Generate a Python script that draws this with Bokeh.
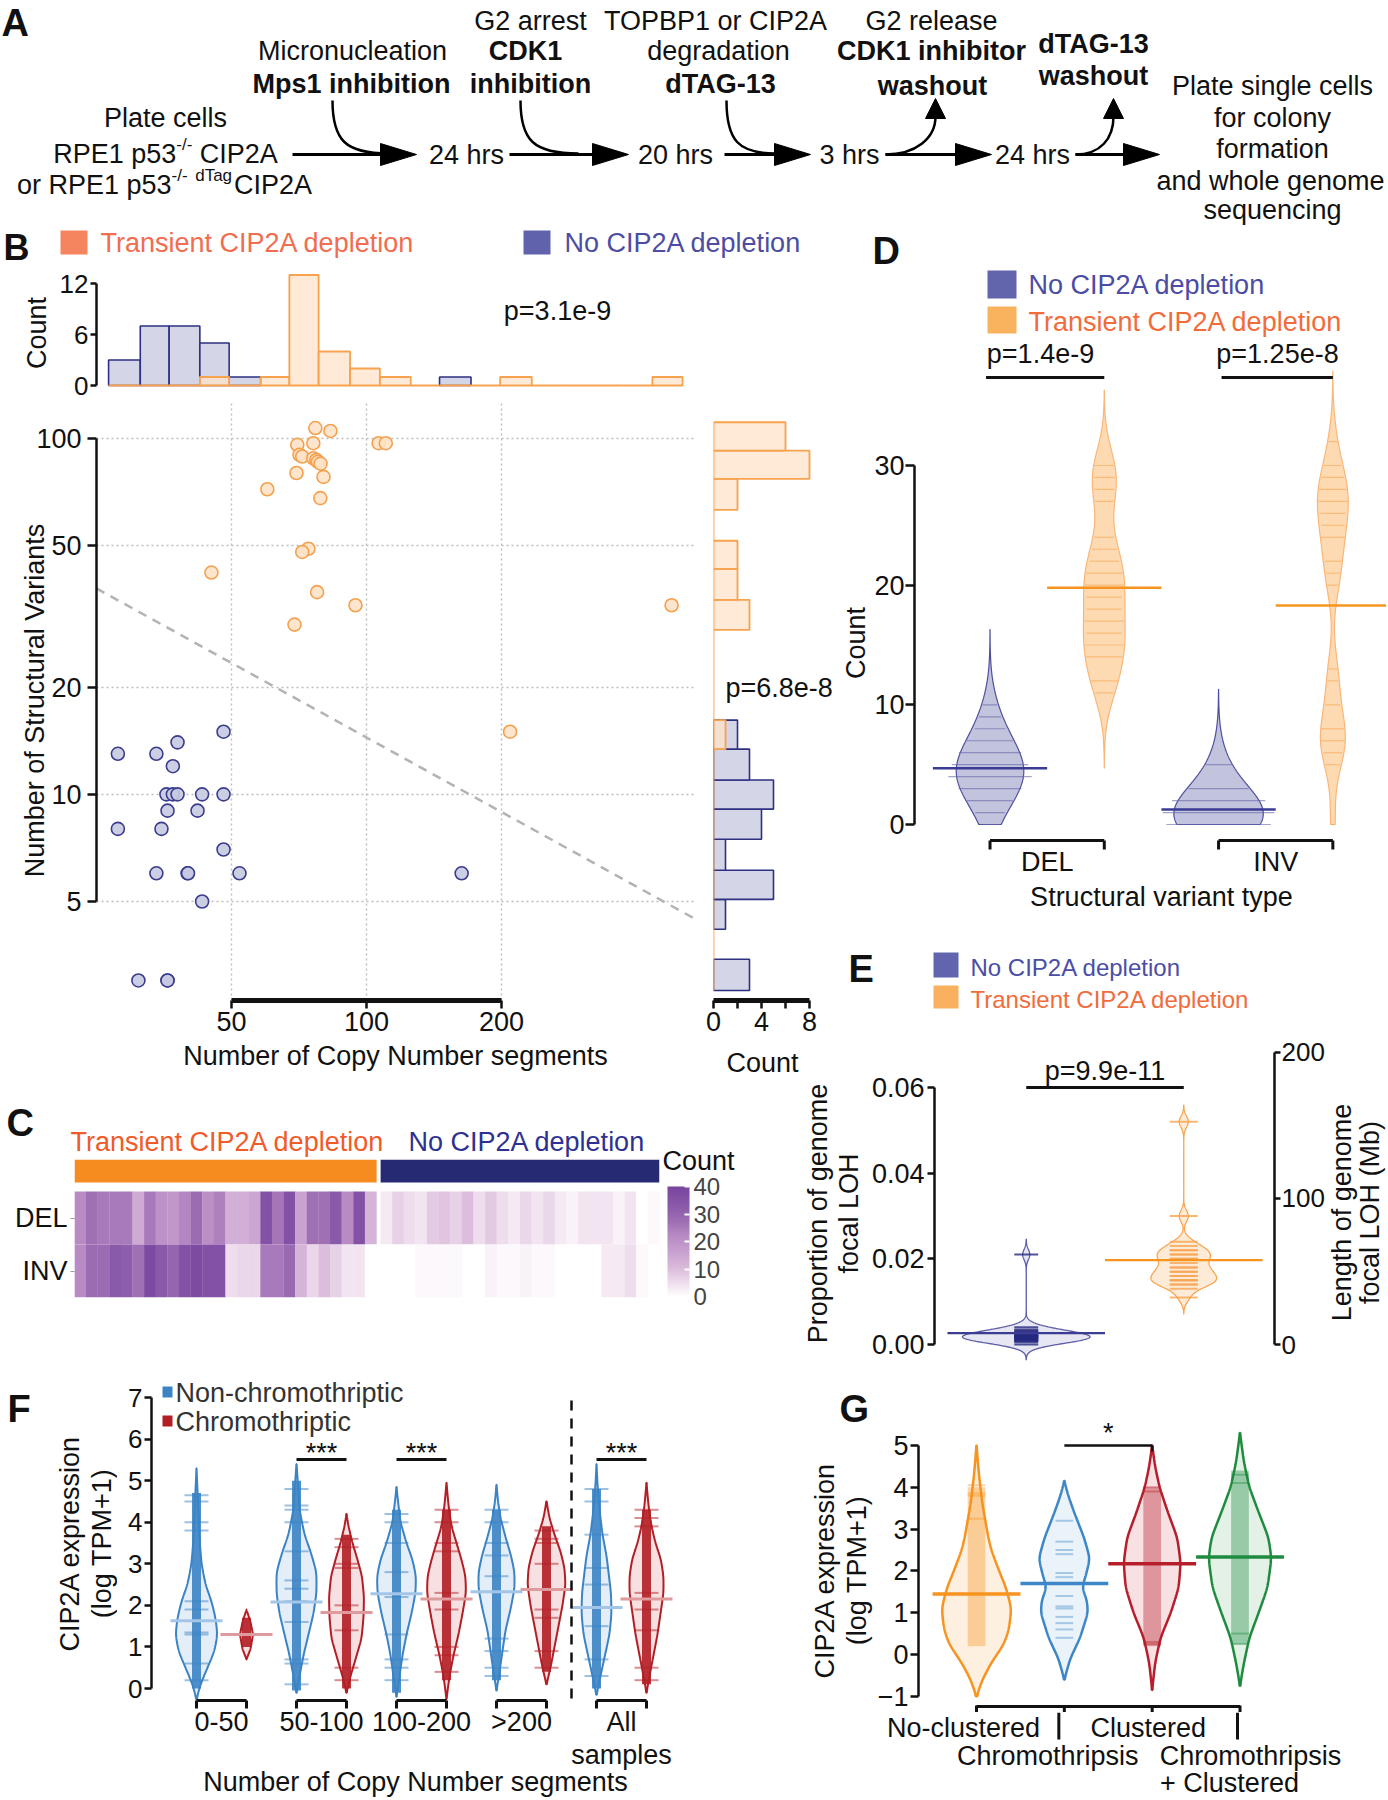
import numpy as np
from bokeh.plotting import figure
from bokeh.models import (Range1d, LinearAxis, FixedTicker, GridBox, ColorBar, Column,
                          LinearColorMapper, PrintfTickFormatter, ColumnDataSource)
from bokeh.transform import linear_cmap
from bokeh.core.properties import value
from bokeh.embed import file_html
from bokeh.resources import INLINE

FONT = "Liberation Sans"

# ======================= DATA =======================
# --- Panel B: one point per clone (copy-number segments, structural variants)
B_NO_CN = [27.9, 34.0, 37.9, 48.0, 37.0, 35.8, 37.0, 37.9, 43.0, 48.0, 36.0, 42.0,
           27.9, 34.9, 48.0, 34.0, 39.9, 40.0, 52.1, 163.0, 43.0, 31.0, 36.0, 36.0]
B_NO_SV = [13, 13, 14, 15, 12, 10, 10, 10, 10, 10, 9, 9, 8, 8, 7, 6, 6, 6, 6, 6, 5, 3, 3, 3]
B_TR_CN = [76.9, 83.1, 70.1, 76.1, 106.4, 110.4, 70.9, 71.9, 76.1, 77.3, 77.9, 79.0,
           69.8, 80.2, 60.1, 78.9, 74.2, 71.9, 45.1, 77.6, 94.5, 69.1, 479.0, 209.0]
B_TR_SV = [107, 105, 96, 97, 97, 97, 90, 89, 88, 87, 86, 85, 80, 78, 72, 68, 49, 48, 42, 37, 34, 30, 34, 15]
B_TOP_EDGES = [26.6, 31.3, 36.3, 42.5, 49.4, 58.1, 67.3, 78.2, 91.9, 107.1, 125.5, 145.5,
               171.0, 198.6, 233.6, 272.7, 318.4, 371.7, 434.0, 506.7]
B_TOP_NO = [3, 7, 7, 5, 1, 0, 0, 0, 0, 0, 0, 1, 0, 0, 0, 0, 0, 0, 0]
B_TOP_TR = [0, 0, 0, 1, 0, 1, 13, 4, 2, 1, 0, 0, 0, 1, 0, 0, 0, 0, 1]
B_RIGHT_EDGES = [2.81, 3.44, 4.18, 5.07, 6.12, 7.48, 9.09, 10.97, 13.40, 16.17, 19.6, 23.9,
                 29.0, 35.2, 43.0, 51.6, 63.0, 77.0, 92.5, 111.1]
B_RIGHT_NO = [3, 0, 1, 5, 1, 4, 5, 3, 2, 0, 0, 0, 0, 0, 0, 0, 0, 0, 0]
B_RIGHT_TR = [0, 0, 0, 0, 0, 0, 0, 0, 1, 0, 0, 0, 3, 2, 2, 0, 2, 8, 6]
B_BOUNDARY_CN = [25.0, 540.0]
B_BOUNDARY_SV = [37.9, 4.47]
B_P_TOP = "p=3.1e-9"
B_P_RIGHT = "p=6.8e-8"

# --- Panel C: SV counts per clone (columns), DEL and INV rows
C_DEL_TR = [22, 27, 25, 25, 25, 14, 25, 20, 19, 23, 28, 21, 24, 13, 13, 15, 36, 26, 36, 16, 27, 27, 33, 22, 36, 12]
C_INV_TR = [22, 28, 28, 33, 32, 27, 38, 33, 30, 36, 38, 36, 36, 5, 6, 6, 25, 25, 29, 12, 6, 10, 7, 4, 4, 0]
C_DEL_NO = [3, 7, 5, 4, 8, 9, 7, 10, 5, 8, 5, 3, 6, 4, 6, 3, 2, 4, 4, 4, 2, 4, 0, 1]
C_INV_NO = [0, 0, 0, 1, 1, 1, 1, 0, 0, 2, 1, 1, 2, 1, 1, 0, 0, 0, 0, 3, 3, 5, 1, 0]
C_STOP_VALUES = [0, 4, 10, 16, 22, 27, 33, 40]
C_STOP_COLORS = ["#FFFFFF", "#F2E3F0", "#DCBDDD", "#C9A2D0", "#B88BC4", "#A070B5", "#8A5AAA", "#7A459F"]
C_TICKS = [0, 10, 20, 30, 40]

# --- Panel D: SV counts per clone
D_DEL_NO = [0, 1, 2, 2, 3, 3, 3, 4, 4, 4, 4, 4, 5, 5, 5, 5, 6, 6, 6, 7, 7, 8, 9, 10]
D_DEL_TR = [11, 12, 12, 14, 14, 15, 15, 16, 17, 17, 18, 19, 20, 20, 21, 21, 22, 23, 24, 27, 28, 29, 30, 30]
D_INV_NO = [0, 0, 0, 0, 0, 0, 0, 0, 0, 0, 1, 1, 1, 1, 1, 1, 2, 2, 2, 2, 3, 3, 5, 5]
D_INV_TR = [0, 5, 6, 7, 7, 8, 8, 10, 12, 13, 20, 21, 22, 24, 24, 25, 26, 27, 27, 28, 28, 29, 30, 32]
D_P = ["p=1.4e-9", "p=1.25e-8"]

# --- Panel E: proportion of genome with focal LOH per clone
E_NO = [0.0, 0.0005, 0.0008, 0.001, 0.001, 0.0012, 0.0012, 0.0015, 0.0015, 0.0015, 0.0018, 0.0018,
        0.002, 0.002, 0.002, 0.0022, 0.0022, 0.0025, 0.0028, 0.003, 0.0032, 0.0035, 0.004, 0.021]
E_TR = [0.011, 0.013, 0.014, 0.014, 0.015, 0.015, 0.015, 0.016, 0.016, 0.017, 0.017, 0.018,
        0.018, 0.019, 0.020, 0.021, 0.022, 0.022, 0.023, 0.024, 0.021, 0.020, 0.030, 0.052]
E_P = "p=9.9e-11"
E_GENOME_MB = 2933.0

# --- Panel F: CIP2A expression violins (density outline)
F_CATS = ["0-50", "50-100", "100-200", ">200", "All"]
F_VALS = [
    [-0.25, 0.1, 0.5, 0.9, 1.3, 1.7, 2.1, 2.5, 3.0, 3.6, 4.5, 5.3],
    [0.7, 0.95, 1.3, 1.6, 1.9],
    [-0.1, 0.3, 0.8, 1.3, 1.8, 2.3, 2.8, 3.3, 3.7, 4.3, 4.9, 5.4],
    [-0.1, 0.3, 0.7, 1.2, 1.7, 2.2, 2.7, 3.1, 3.5, 3.9, 4.2],
    [-0.2, 0.3, 0.8, 1.3, 1.8, 2.3, 2.7, 3.1, 3.5, 4.0, 4.5, 4.85],
    [-0.25, 0.3, 0.8, 1.3, 1.8, 2.3, 2.7, 3.1, 3.5, 3.9, 4.4, 4.95],
    [-0.05, 0.4, 0.9, 1.4, 1.9, 2.4, 2.8, 3.2, 3.6, 4.1, 4.5, 4.9],
    [0.1, 0.5, 1.0, 1.5, 2.0, 2.5, 2.9, 3.3, 3.7, 4.1, 4.5],
    [-0.15, 0.3, 0.8, 1.3, 1.8, 2.3, 2.8, 3.2, 3.7, 4.3, 4.9, 5.4],
    [-0.1, 0.3, 0.8, 1.3, 1.8, 2.3, 2.7, 3.1, 3.5, 3.9, 4.4, 4.95],
]
F_DENS = [
    [0, 4, 11, 18, 21, 19, 15, 9, 5, 3, 1.5, 0],
    [0, 4, 6.5, 4, 0],
    [0, 3, 7, 12, 17, 20, 20, 14, 8, 3, 1.5, 0],
    [0, 4, 9, 15, 17, 17.5, 15.5, 11, 6, 2, 0],
    [0, 3, 6, 10, 15, 19, 19.5, 16, 10, 4, 1.5, 0],
    [0, 3, 7, 12, 16, 19.5, 19, 15, 10, 5, 2, 0],
    [0, 3, 6, 9, 14, 18, 18, 14.5, 9.5, 4, 1.5, 0],
    [0, 4, 8, 12, 16, 19, 18, 14, 8, 3, 0],
    [0, 4, 8.5, 13, 15, 14.5, 12, 10, 6, 3, 1, 0],
    [0, 3, 7, 11, 14, 17, 17, 14.5, 9, 5, 2, 0],
]
F_MEANS = [1.63, 1.30, 2.08, 1.83, 2.28, 2.15, 2.33, 2.38, 1.95, 2.15]
F_DENSE_LO = [0.0, 1.0, -0.05, 0.0, -0.1, 0.2, 0.2, 0.4, 0.0, 0.1]
F_DENSE_HI = [4.7, 1.7, 5.0, 3.7, 4.3, 4.3, 4.3, 3.9, 4.8, 4.3]
F_LINES = [
    [4.65, 4.5, 4.0, 3.8, 2.1, 1.9, 1.35, 1.3, 0.6, 0.2],
    [1.3],
    [4.8, 4.4, 4.3, 4.0, 3.3, 2.6, 2.4, 2.1, 1.6, 0.7, 0.6, 0.1],
    [3.6, 3.4, 3.0, 2.9, 2.0, 1.4, 0.5, 0.2],
    [4.2, 4.0, 3.5, 2.8, 2.2, 1.3, 0.7, 0.5, 0.2],
    [4.3, 4.0, 3.5, 3.3, 2.3, 1.9, 1.0, 0.8, 0.4],
    [4.3, 4.0, 3.5, 3.2, 2.7, 1.2, 0.9, 0.5, 0.3],
    [3.8, 3.6, 3.5, 3.0, 1.9, 1.7, 0.9, 0.5],
    [4.8, 4.5, 3.7, 2.9, 2.5, 1.5, 0.7, 0.3],
    [4.3, 4.1, 3.9, 2.3, 1.9, 1.4, 0.5, 0.2],
]
F_SIG_PAIRS = [1, 2, 4]   # groups with *** between the two violins

# --- Panel G
G_CATS = ["No-clustered", "Chromothripsis", "Clustered", "Chromothripsis", "+ Clustered"]
G_VALS = [
    [-1.0, -0.6, -0.2, 0.25, 0.6, 1.1, 1.6, 2.0, 2.5, 2.8, 3.6, 4.3, 5.0],
    [-0.6, -0.1, 0.4, 1.0, 1.3, 1.6, 1.9, 2.3, 2.8, 3.4, 3.8, 4.15],
    [-0.85, -0.2, 0.4, 1.0, 1.6, 2.2, 2.8, 3.4, 4.0, 4.5, 5.0],
    [-0.75, -0.2, 0.4, 1.0, 1.6, 2.3, 2.8, 3.4, 4.0, 4.6, 5.3],
]
G_DENS = [
    [0, 6, 15, 28, 33, 35.5, 30, 23, 15, 12, 6, 2.5, 0],
    [0, 6, 16, 24, 23, 18, 22, 26, 20, 10, 4, 0],
    [0, 3, 8.5, 19, 27, 29, 25.5, 16, 7.5, 3, 0],
    [0, 4, 9.5, 19, 28, 32, 29, 19, 9.5, 4, 0],
]
G_MEANS = [1.45, 1.70, 2.17, 2.33]
G_DENSE_LO = [0.2, None, 0.2, 0.25]
G_DENSE_HI = [4.0, None, 4.0, 4.4]
G_LINES = [
    [4.05, 3.85, 3.8, 3.25],
    [0.4, 0.6, 0.75, 0.9, 1.1, 1.15, 1.4, 1.85, 1.95, 2.4, 2.5, 2.7, 3.2],
    [4.0, 3.9, 0.3, 0.25],
    [4.3, 4.1, 0.5, 0.25],
]

# ======================= HELPERS =======================
ARIAL = {' ': .278, '-': .333, '/': .278, '.': .278, '+': .584, '=': .584, '(': .333, ')': .333,
         'A': .667, 'C': .722, 'E': .667, 'I': .278, 'P': .667, 'R': .722, 'T': .611,
         'a': .556, 'd': .556, 'g': .556, 'o': .556, 'p': .556, 'r': .333}


def tw(s, size):
    return sum(ARIAL.get(ch, 0.556) for ch in s) * size


def lin_map(p0, v0, p1, v1):
    return lambda px: v0 + (px - p0) * (v1 - v0) / (p1 - p0)


def log_map(p0, v0, p1, v1):
    f = lin_map(p0, np.log10(v0), p1, np.log10(v1))
    return lambda px: float(10 ** f(px))


def hide_grids(p):
    p.xgrid.visible = False
    p.ygrid.visible = False
    for r in list(p.center):
        if r.__class__.__name__ == "Grid":
            r.visible = False


def canvas(rect):
    X0, Y0, X1, Y1 = rect
    p = figure(width=X1 - X0, height=Y1 - Y0, x_range=Range1d(X0, X1), y_range=Range1d(Y1, Y0),
               x_axis_location=None, y_axis_location=None, output_backend="svg",
               toolbar_location=None, min_border_left=0, min_border_right=0,
               min_border_top=0, min_border_bottom=0)
    p.outline_line_color = None
    hide_grids(p)
    return p


def panel(rect, frame, xr, yr, xlog=False, ylog=False, xloc=None, yloc=None):
    X0, Y0, X1, Y1 = rect
    FX0, FY0, FX1, FY1 = frame
    p = figure(width=X1 - X0, height=Y1 - Y0, x_range=Range1d(*xr), y_range=Range1d(*yr),
               x_axis_type="log" if xlog else "linear", y_axis_type="log" if ylog else "linear",
               x_axis_location=xloc, y_axis_location=yloc, output_backend="svg",
               toolbar_location=None, min_border_left=FX0 - X0, min_border_right=X1 - FX1,
               min_border_top=FY0 - Y0, min_border_bottom=Y1 - FY1)
    p.outline_line_color = None
    hide_grids(p)
    return p


def style_axis(ax, size=27, lw=2.5, tick=8, standoff=3, label_standoff=5):
    ax.axis_line_width = lw
    ax.axis_line_color = "#111111"
    ax.major_tick_line_width = lw
    ax.major_tick_line_color = "#111111"
    ax.major_tick_out = tick
    ax.major_tick_in = 0
    ax.minor_tick_line_color = None
    ax.major_label_text_font = FONT
    ax.major_label_text_font_size = f"{size}px"
    ax.major_label_text_color = "#111111"
    ax.major_label_standoff = standoff
    ax.axis_label_text_font = FONT
    ax.axis_label_text_font_size = "27px"
    ax.axis_label_text_font_style = "normal"
    ax.axis_label_text_color = "#111111"
    ax.axis_label_standoff = label_standoff


def T(p, x, y, s, size=27, color="#111111", align="center", base="middle", bold=False, angle=0.0):
    p.text(x=[float(x)], y=[float(y)], text=[s], angle=angle, text_font=value(FONT),
           text_font_size=value(f"{size}px"), text_color=color, text_align=align,
           text_baseline=base, text_font_style="bold" if bold else "normal")


def rich(p, cx, cy, pieces):
    total = sum(tw(s, sz) for s, sz, dy in pieces)
    x = cx - total / 2
    for s, sz, dy in pieces:
        lead = len(s) - len(s.lstrip(" "))
        if s.strip():
            T(p, x + tw(" " * lead, sz), cy + dy, s.strip(), sz, align="left")
        x += tw(s, sz)


def kde(data, bw, lo=None, n=300):
    d = np.asarray(data, float)
    a, b = d.min() - 3 * bw, d.max() + 3 * bw
    if lo is not None:
        a = max(a, lo)
    g = np.linspace(a, b, n)
    dens = np.exp(-0.5 * ((g[:, None] - d[None, :]) / bw) ** 2).sum(axis=1)
    return g, dens / dens.max()


def profile(vals, dens, n=300, sig=6):
    g = np.linspace(vals[0], vals[-1], n)
    w = np.interp(g, vals, dens)
    k = np.exp(-0.5 * (np.arange(-3 * sig, 3 * sig + 1) / sig) ** 2)
    k /= k.sum()
    w = np.convolve(np.pad(w, 3 * sig), k, mode="valid")
    return g, w


def violin(p, xc, g, hw, fill, line, fill_alpha=1.0, lw=1.5):
    xs = np.concatenate([xc - hw, (xc + hw)[::-1]])
    ys = np.concatenate([g, g[::-1]])
    p.patch(xs.tolist(), ys.tolist(), fill_color=fill, fill_alpha=fill_alpha,
            line_color=line, line_width=lw)


def hsegs(p, xc, ys, hws, color, lw, alpha):
    ys = list(map(float, ys))
    hws = np.broadcast_to(np.asarray(hws, float), (len(ys),))
    p.segment(x0=[float(xc - h) for h in hws], y0=ys, x1=[float(xc + h) for h in hws], y1=ys,
              line_color=color, line_width=lw, line_alpha=alpha)


def palette_from_stops(vals, cols, n=256):
    rgb = np.array([[int(c[i:i + 2], 16) for i in (1, 3, 5)] for c in cols], float)
    out = []
    for v in np.linspace(vals[0], vals[-1], n):
        r, g, b = (np.interp(v, vals, rgb[:, j]) for j in range(3))
        out.append("#%02x%02x%02x" % (int(round(r)), int(round(g)), int(round(b))))
    return out


# ======================= LAYOUT RECTS (page px) =======================
RECT = {
    "A": (0, 0, 1386, 226),
    "bHead": (0, 226, 838, 268), "bTop": (0, 268, 838, 400),
    "bScat": (0, 400, 700, 1085), "bRight": (700, 400, 838, 1045), "bCount": (700, 1045, 800, 1085),
    "cHead": (0, 1085, 662, 1158), "cHeat": (0, 1158, 662, 1320), "cBar": (662, 1085, 800, 1320),
    "dHead": (838, 226, 1386, 370), "dFig": (838, 370, 1386, 915),
    "eHead": (838, 915, 1386, 1015), "eLab": (800, 1045, 864, 1365),
    "eFig": (864, 1015, 1327, 1365), "eRLab": (1327, 1015, 1386, 1365),
    "fLab": (0, 1365, 117, 1798), "fFig": (117, 1365, 800, 1798),
    "gLab": (800, 1365, 874, 1798), "gFig": (874, 1365, 1386, 1712), "gBot": (874, 1712, 1386, 1798),
}
FIGS = {}

# ======================= PANEL A (schematic) =======================
pa = canvas(RECT["A"])
T(pa, 1, 22, "A", 38, bold=True, align="left")
A_TEXT = [("G2 arrest", 530, 20, False), ("TOPBP1 or CIP2A", 715, 20, False),
          ("G2 release", 931, 20, False), ("Micronucleation", 352, 50, False),
          ("CDK1", 525, 50, True), ("degradation", 718, 50, False),
          ("CDK1 inhibitor", 931, 50, True), ("dTAG-13", 1093, 43, True),
          ("Mps1 inhibition", 351, 83, True), ("inhibition", 530, 83, True),
          ("dTAG-13", 720, 83, True), ("washout", 932, 85, True), ("washout", 1093, 75, True),
          ("Plate single cells", 1272, 85, False), ("for colony", 1272, 117, False),
          ("formation", 1272, 148, False), ("and whole genome", 1270, 180, False),
          ("sequencing", 1272, 209, False), ("Plate cells", 165, 117, False),
          ("24 hrs", 466, 154, False), ("20 hrs", 675, 154, False),
          ("3 hrs", 849, 154, False), ("24 hrs", 1032, 154, False)]
for s, x, y, b in A_TEXT:
    T(pa, x, y, s, 27, bold=b)
rich(pa, 165, 153, [("RPE1 p53", 27, 0), ("-/-", 17, -9), (" CIP2A", 27, 0)])
rich(pa, 164, 184, [("or RPE1 p53", 27, 0), ("-/-", 17, -9), (" ", 27, 0), ("dTag", 17, -9), ("CIP2A", 27, 0)])
for a, b in [(292, 416), (509, 628), (724, 810), (885, 991), (1075, 1159)]:
    pa.segment(x0=[a], y0=[154], x1=[b - 30], y1=[154], line_width=3, line_color="black")
    pa.patch([b, b - 36, b - 36], [154, 143, 165], fill_color="black", line_color="black")
pa.bezier(x0=[332, 520, 726], y0=[100, 100, 100], x1=[388, 578, 775], y1=[153, 153, 153],
          cx0=[332, 520, 726], cy0=[140, 140, 140], cx1=[345, 533, 738], cy1=[153, 153, 153],
          line_width=2.5, line_color="black")
pa.bezier(x0=[885, 1075], y0=[154, 154], x1=[935, 1113], y1=[116, 116],
          cx0=[915, 1100], cy0=[154, 154], cx1=[935, 1113], cy1=[138, 138],
          line_width=2.5, line_color="black")
for tx in (935, 1113):
    pa.patch([tx, tx - 10, tx + 10], [98, 118, 118], fill_color="black", line_color="black")
FIGS["A"] = pa

# ======================= PANEL B =======================
BLUE_F, BLUE_L = "#D4D5E7", "#2E3082"
OR_F, OR_L = "#FDE3C8", "#F6A24F"
bx = log_map(231, 50, 501, 200)
by = log_map(438, 100, 901, 5)
ty = lin_map(385, 0, 283, 12)
rx = lin_map(713, 0, 809, 8)

pbh = canvas(RECT["bHead"])
T(pbh, 3, 247, "B", 36, bold=True, align="left")
pbh.quad(left=[60], right=[87], top=[230], bottom=[254], fill_color="#F5855F", line_color=None)
T(pbh, 100, 242, "Transient CIP2A depletion", 27, color="#F26C4F", align="left")
pbh.quad(left=[523], right=[550], top=[230], bottom=[254], fill_color="#6062AC", line_color=None)
T(pbh, 564, 242, "No CIP2A depletion", 27, color="#4C4DA3", align="left")
FIGS["bHead"] = pbh

pbt = panel(RECT["bTop"], (96, 273, 694, 392), (bx(96), bx(694)), (ty(392), ty(273)), xlog=True, yloc="left")
ax = pbt.yaxis[0]
ax.ticker = FixedTicker(ticks=[0, 6, 12])
ax.bounds = (0, 12)
style_axis(ax, size=26, tick=6, standoff=2, label_standoff=5)
ax.axis_label = "Count"
E = B_TOP_EDGES
nz = [i for i, c in enumerate(B_TOP_NO) if c > 0]
pbt.quad(left=[E[i] for i in nz], right=[E[i + 1] for i in nz], bottom=0, top=[B_TOP_NO[i] for i in nz],
         fill_color=BLUE_F, line_color=BLUE_L, line_width=1.6)
pbt.quad(left=E[:-1], right=E[1:], bottom=0, top=B_TOP_TR, fill_color=OR_F, fill_alpha=0.75,
         line_color=OR_L, line_width=1.8)
T(pbt, bx(557), ty(310), B_P_TOP, 27)
FIGS["bTop"] = pbt

pbs = panel(RECT["bScat"], (96, 400, 694, 1000), (bx(96), bx(694)), (by(1000), by(400)),
            xlog=True, ylog=True, xloc="below", yloc="left")
xa = pbs.xaxis[0]
xa.ticker = FixedTicker(ticks=[50, 100, 200])
xa.bounds = (50, 200)
xa.formatter = PrintfTickFormatter(format="%d")
style_axis(xa, tick=8, standoff=3, label_standoff=7)
xa.axis_line_width = 5
xa.axis_label = "Number of Copy Number segments"
ya = pbs.yaxis[0]
ya.ticker = FixedTicker(ticks=[5, 10, 20, 50, 100])
ya.bounds = (5, 100)
ya.formatter = PrintfTickFormatter(format="%d")
style_axis(ya, tick=9, standoff=6, label_standoff=-17)
ya.axis_label = "Number of Structural Variants"
for g, tk in ((pbs.xgrid[0], [50, 100, 200]), (pbs.ygrid[0], [5, 10, 20, 50, 100])):
    g.visible = True
    g.ticker = FixedTicker(ticks=tk)
    g.grid_line_color = "#BDBDBD"
    g.grid_line_dash = "2 3"
    g.grid_line_width = 1.4
pbs.line(B_BOUNDARY_CN, B_BOUNDARY_SV, line_color="#B3B3B3", line_width=2.5, line_dash="9 7")
pbs.scatter(B_NO_CN, B_NO_SV, size=13, fill_color="#C7C9E1", fill_alpha=0.9, line_color="#3A3C8C", line_width=1.6)
pbs.scatter(B_TR_CN, B_TR_SV, size=13, fill_color="#FDE3C8", fill_alpha=0.9, line_color="#F5A04C", line_width=1.6)
FIGS["bScat"] = pbs

pbr = panel(RECT["bRight"], (713, 400, 836, 1000), (rx(713), rx(836)), (by(1000), by(400)),
            ylog=True, xloc="below")
ra = pbr.xaxis[0]
ra.ticker = FixedTicker(ticks=[0, 4, 8], minor_ticks=[2, 6])
ra.bounds = (0, 8)
style_axis(ra, tick=8, standoff=3)
ra.axis_line_width = 5
ra.minor_tick_line_color = "#111111"
ra.minor_tick_line_width = 2.5
ra.minor_tick_out = 8
ra.minor_tick_in = 0
RE = B_RIGHT_EDGES
nz = [i for i, c in enumerate(B_RIGHT_NO) if c > 0]
pbr.quad(left=0, right=[B_RIGHT_NO[i] for i in nz], bottom=[RE[i] for i in nz], top=[RE[i + 1] for i in nz],
         fill_color=BLUE_F, line_color=BLUE_L, line_width=1.6)
pbr.quad(left=0, right=B_RIGHT_TR, bottom=RE[:-1], top=RE[1:], fill_color=OR_F, fill_alpha=0.75,
         line_color=OR_L, line_width=1.8)
T(pbr, rx(725), by(687), B_P_RIGHT, 27, align="left")
FIGS["bRight"] = pbr

pbc = canvas(RECT["bCount"])
T(pbc, 762, 1062, "Count", 27)
FIGS["bCount"] = pbc

# ======================= PANEL C =======================
pch_head = canvas(RECT["cHead"])
T(pch_head, 6, 1122, "C", 38, bold=True, align="left")
T(pch_head, 70, 1141, "Transient CIP2A depletion", 27, color="#F15A29", align="left")
T(pch_head, 408, 1141, "No CIP2A depletion", 27, color="#2E3192", align="left")
FIGS["cHead"] = pch_head

GAP = 0.344
PAL = palette_from_stops(C_STOP_VALUES, C_STOP_COLORS)
ntr, nno = len(C_DEL_TR), len(C_DEL_NO)
xpos = [float(i) for i in range(ntr)] + [ntr + GAP + j for j in range(nno)]
pch = panel(RECT["cHeat"], (74, 1159, 659, 1297), (-0.5, ntr - 0.5 + GAP + nno), (-0.5, 2.104), yloc="left")
cy = pch.yaxis[0]
cy.ticker = FixedTicker(ticks=[0, 1])
cy.major_label_overrides = {0: "INV", 1: "DEL"}
style_axis(cy, tick=4, standoff=3)
cy.axis_line_color = None
cy.major_tick_line_color = "#999999"
cy.major_tick_line_width = 1
src = ColumnDataSource(dict(x=xpos * 2, y=[1.0] * (ntr + nno) + [0.0] * (ntr + nno),
                            v=C_DEL_TR + C_DEL_NO + C_INV_TR + C_INV_NO))
pch.rect(x="x", y="y", width=1.02, height=1.0, source=src,
         fill_color=linear_cmap("v", PAL, 0, 40), line_color=None)
pch.quad(left=[-0.5], right=[ntr - 0.5], bottom=[1.67], top=[2.104], fill_color="#F68B1F", line_color=None)
pch.quad(left=[ntr - 0.5 + GAP], right=[ntr - 0.5 + GAP + nno], bottom=[1.67], top=[2.104],
         fill_color="#262A73", line_color=None)
FIGS["cHeat"] = pch

pcb = canvas(RECT["cBar"])
cb = ColorBar(color_mapper=LinearColorMapper(palette=PAL, low=0, high=40), location=(5, 24),
              width=22, height=110, padding=0,
              ticker=FixedTicker(ticks=C_TICKS), major_label_text_font=FONT,
              major_label_text_font_size="24px", label_standoff=4, major_tick_in=5,
              major_tick_out=0, major_tick_line_color="white", major_tick_line_width=2,
              bar_line_color=None, border_line_color=None, background_fill_alpha=0)
pcb.add_layout(cb)
T(pcb, 662, 1160, "Count", 27, align="left")
FIGS["cBar"] = pcb

# ======================= PANEL D =======================
PUR_F, PUR_L, PUR_S, PUR_M = "#B7B8D6", "#4E4F9E", "#6566A8", "#3A3B94"
ORD_F, ORD_L, ORD_S, ORD_M = "#FDD3A4", "#F9B679", "#F9A654", "#F7941D"
dx = lin_map(987, 0, 1332, 3)
dy = lin_map(824, 0, 465, 30)
D_PX_PER_UNIT = 115.0

pdh = canvas(RECT["dHead"])
T(pdh, 872, 250, "D", 38, bold=True, align="left")
pdh.quad(left=[987], right=[1016], top=[270], bottom=[298], fill_color="#6264AC", line_color=None)
T(pdh, 1028, 284, "No CIP2A depletion", 27, color="#4B4CA6", align="left")
pdh.quad(left=[987], right=[1016], top=[306], bottom=[333], fill_color="#F9B25E", line_color=None)
T(pdh, 1028, 321, "Transient CIP2A depletion", 27, color="#F26B3A", align="left")
T(pdh, 1040, 353, D_P[0], 27)
T(pdh, 1277, 353, D_P[1], 27)
FIGS["dHead"] = pdh

pdf = panel(RECT["dFig"], (911, 370, 1386, 915), (dx(911), dx(1386)), (dy(915), dy(370)), yloc="left")
ay = pdf.yaxis[0]
ay.ticker = FixedTicker(ticks=[0, 10, 20, 30])
ay.bounds = (0, 30)
style_axis(ay, tick=9, standoff=1, label_standoff=0)
ay.axis_label = "Count"
D_SETS = [(D_DEL_NO, 34, "no"), (D_DEL_TR, 21, "tr"), (D_INV_NO, 45, "no"), (D_INV_TR, 15.5, "tr")]
for i, (data, wmax, kind) in enumerate(D_SETS):
    g, dens = kde(data, 2.1, lo=0.0)
    hw = dens * wmax / D_PX_PER_UNIT
    f, l, s, m = (PUR_F, PUR_L, PUR_S, PUR_M) if kind == "no" else (ORD_F, ORD_L, ORD_S, ORD_M)
    violin(pdf, i, g, hw, f, l, fill_alpha=0.85, lw=1.2)
    vals, cnts = np.unique(data, return_counts=True)
    w_at = np.interp(vals, g, hw)
    hws = np.minimum(w_at * (0.85 + 0.1 * (cnts - 1)), w_at * 1.2 + 0.02)
    hsegs(pdf, i, vals, hws, s, 1.2, 0.6)
    hsegs(pdf, i, [np.mean(data)], [0.5], m, 2.5, 1.0)
pdf.segment(x0=[dx(983), dx(1220)], y0=[dy(377)] * 2, x1=[dx(1102), dx(1332)], y1=[dy(377)] * 2,
            line_color="#111111", line_width=3)
for a in (0, 2):
    pdf.segment(x0=[a, a, a + 1], y0=[dy(840), dy(840), dy(840)], x1=[a + 1, a, a + 1],
                y1=[dy(840), dy(849), dy(849)], line_color="#111111", line_width=3)
T(pdf, 0.5, dy(861), "DEL", 27)
T(pdf, 2.5, dy(861), "INV", 27)
T(pdf, 1.5, dy(896), "Structural variant type", 27)
FIGS["dFig"] = pdf

# ======================= PANEL E =======================
ex = lin_map(1026, 0, 1184, 1)
ey = lin_map(1344, 0, 1087, 0.06)
E_PX_PER_UNIT = 158.0

peh = canvas(RECT["eHead"])
T(peh, 848, 968, "E", 38, bold=True, align="left")
peh.quad(left=[933], right=[958], top=[952], bottom=[977], fill_color="#6264AE", line_color=None)
T(peh, 970, 967, "No CIP2A depletion", 24, color="#4B4DA6", align="left")
peh.quad(left=[933], right=[958], top=[985], bottom=[1008], fill_color="#F9B15F", line_color=None)
T(peh, 970, 999, "Transient CIP2A depletion", 24, color="#F26B3A", align="left")
FIGS["eHead"] = peh

pel = canvas(RECT["eLab"])
T(pel, 817, 1213, "Proportion of genome", 27, angle=np.pi / 2)
T(pel, 848, 1213, "focal LOH", 27, angle=np.pi / 2)
FIGS["eLab"] = pel

per = canvas(RECT["eRLab"])
T(per, 1341, 1212, "Length of genome", 27, angle=np.pi / 2)
T(per, 1369, 1212, "focal LOH (Mb)", 27, angle=np.pi / 2)
FIGS["eRLab"] = per

pef = panel(RECT["eFig"], (934, 1020, 1275, 1362), (ex(934), ex(1275)), (ey(1362), ey(1020)), yloc="left")
ey_ax = pef.yaxis[0]
ey_ax.ticker = FixedTicker(ticks=[0, 0.02, 0.04, 0.06])
ey_ax.bounds = (0, 0.06)
ey_ax.formatter = PrintfTickFormatter(format="%.2f")
style_axis(ey_ax, tick=7, standoff=3)
pef.extra_y_ranges = {"mb": Range1d(ey(1362) * E_GENOME_MB, ey(1020) * E_GENOME_MB)}
rax = LinearAxis(y_range_name="mb", ticker=FixedTicker(ticks=[0, 100, 200]), bounds=(0, 200))
style_axis(rax, size=26, tick=6, standoff=1)
pef.add_layout(rax, "right")
for i, (data, bw, wmax, f, l, s, m, shw) in enumerate([
        (E_NO, 0.0012, 64, "#E6E7F2", "#5C5DA6", "#262880", "#3B3C92", 12),
        (E_TR, 0.0013, 33, "#FDEBD7", "#F8A552", "#F8A552", "#F7941D", 14)]):
    g, dens = kde(data, bw)
    violin(pef, i, g, dens * wmax / E_PX_PER_UNIT, f, l, lw=1.3)
    hsegs(pef, i, data, shw / E_PX_PER_UNIT, s, 2, 0.8)
    hsegs(pef, i, [np.mean(data)], [0.5], m, 2.2, 1.0)
pef.segment(x0=[0], y0=[0.06], x1=[1], y1=[0.06], line_color="#111111", line_width=3)
T(pef, 0.5, ey(1070), E_P, 27)
FIGS["eFig"] = pef

# ======================= PANEL F =======================
fx = lin_map(196, 0, 646, 9)
fy = lin_map(1688, 0, 1397, 7)
F_PX = 50.0
F_COL = {"b": ("#3B83C4", "#E4EEF8", "#A3C6E8"), "r": ("#B31E25", "#F6E0E1", "#DE9A9C")}

pfl = canvas(RECT["fLab"])
T(pfl, 7, 1408, "F", 38, bold=True, align="left")
T(pfl, 69, 1543, "CIP2A expression", 27, angle=np.pi / 2)
T(pfl, 101, 1543, "(log TPM+1)", 27, angle=np.pi / 2)
FIGS["fLab"] = pfl

pff = panel(RECT["fFig"], (151, 1365, 800, 1798), (fx(151), fx(800)), (fy(1798), fy(1365)), yloc="left")
fa = pff.yaxis[0]
fa.ticker = FixedTicker(ticks=list(range(8)))
fa.bounds = (0, 7)
style_axis(fa, size=26, tick=7, standoff=2)
for i in range(10):
    edge, fill, mcol = F_COL["b" if i % 2 == 0 else "r"]
    g, w = profile(F_VALS[i], F_DENS[i])
    violin(pff, i, g, w / F_PX, fill, edge, lw=2)
    pff.quad(left=[i - 4.5 / F_PX], right=[i + 4.5 / F_PX], bottom=[F_DENSE_LO[i]], top=[F_DENSE_HI[i]],
             fill_color=edge, fill_alpha=0.9, line_color=None)
    hsegs(pff, i, F_LINES[i], 12 / F_PX, edge, 2, 0.5)
    hsegs(pff, i, [F_MEANS[i]], [26 / F_PX], mcol, 3, 1.0)
for k, lab in enumerate(F_CATS):
    a = 2 * k
    pff.segment(x0=[a, a, a + 1], y0=[fy(1700)] * 3, x1=[a + 1, a, a + 1],
                y1=[fy(1700), fy(1708), fy(1708)], line_color="#111111", line_width=3)
    T(pff, a + 0.5, fy(1721), lab, 27)
T(pff, 8.5, fy(1754), "samples", 27)
T(pff, fx(415), fy(1781), "Number of Copy Number segments", 27)
pff.segment(x0=[7.5], y0=[fy(1400)], x1=[7.5], y1=[fy(1700)], line_color="#111111", line_width=2.5,
            line_dash="10 8")
for k in F_SIG_PAIRS:
    a = 2 * k
    pff.segment(x0=[a], y0=[fy(1459)], x1=[a + 1], y1=[fy(1459)], line_color="#111111", line_width=3)
    T(pff, a + 0.5, fy(1452), "***", 27)
pff.quad(left=[fx(162)], right=[fx(172)], top=[fy(1386)], bottom=[fy(1397)], fill_color="#3B83C4", line_color=None)
T(pff, fx(175), fy(1392), "Non-chromothriptic", 27, color="#333333", align="left")
pff.quad(left=[fx(162)], right=[fx(172)], top=[fy(1415)], bottom=[fy(1426)], fill_color="#B31E25", line_color=None)
T(pff, fx(175), fy(1421), "Chromothriptic", 27, color="#333333", align="left")
FIGS["fFig"] = pff

# ======================= PANEL G =======================
gx = lin_map(969, 0, 1237, 3)
gy = lin_map(1654, 0, 1445, 5)
G_PX = (1237 - 969) / 3.0
G_COL = [("#F7931E", "#FEF0E0"), ("#3D87C8", "#EAF2FA"), ("#B61E2B", "#F7E1E3"), ("#1E8B3F", "#E3F1E6")]


def gpx(k):
    return 969 + G_PX * k


pgl = canvas(RECT["gLab"])
T(pgl, 839, 1408, "G", 38, bold=True, align="left")
T(pgl, 824, 1570, "CIP2A expression", 27, angle=np.pi / 2)
T(pgl, 856, 1570, "(log TPM+1)", 27, angle=np.pi / 2)
FIGS["gLab"] = pgl

pgf = panel(RECT["gFig"], (910, 1365, 1386, 1712), (gx(910), gx(1386)), (gy(1712), gy(1365)), yloc="left")
ga = pgf.yaxis[0]
ga.ticker = FixedTicker(ticks=[-1, 0, 1, 2, 3, 4, 5])
ga.bounds = (-1, 5)
style_axis(ga, size=27, tick=8, standoff=2)
for i in range(4):
    edge, fill = G_COL[i]
    g, w = profile(G_VALS[i], G_DENS[i])
    violin(pgf, i, g, w / G_PX, fill, edge, lw=2.5)
    if G_DENSE_LO[i] is not None:
        pgf.quad(left=[i - 9 / G_PX], right=[i + 9 / G_PX], bottom=[G_DENSE_LO[i]], top=[G_DENSE_HI[i]],
                 fill_color=edge, fill_alpha=0.38, line_color=None)
    hsegs(pgf, i, G_LINES[i], 9 / G_PX, edge, 2, 0.4)
    hsegs(pgf, i, [G_MEANS[i]], [0.5], edge, 3.5, 1.0)
pgf.segment(x0=[1, 2], y0=[gy(1445), gy(1445)], x1=[2, 2], y1=[gy(1445), gy(1451)],
            line_color="#111111", line_width=2.5)
T(pgf, 1.5, gy(1432), "*", 27)
# category bracket (upper part inside the frame)
pgf.line(x=[0.0, 3.0], y=[gy(1706), gy(1706)], line_color="#111111", line_width=3)
pgf.segment(x0=[0, 1, 2, 3], y0=[gy(1705)] * 4, x1=[0, 1, 2, 3], y1=[gy(1712)] * 4,
            line_color="#111111", line_width=3)
FIGS["gFig"] = pgf

pgb = canvas(RECT["gBot"])
pgb.segment(x0=[gpx(1), gpx(3)], y0=[1712, 1712], x1=[gpx(1), gpx(3)], y1=[1739, 1739],
            line_color="#111111", line_width=3)
T(pgb, gpx(0) - 6, 1727, G_CATS[0], 27)
T(pgb, gpx(2), 1727, G_CATS[2], 27)
T(pgb, gpx(1) - 11, 1755, G_CATS[1], 27)
T(pgb, gpx(3) + 13, 1755, G_CATS[3], 27)
T(pgb, gpx(3) - 8, 1782, G_CATS[4], 27)
FIGS["gBot"] = pgb

# ======================= ASSEMBLE =======================
xs = sorted({r[0] for r in RECT.values()} | {r[2] for r in RECT.values()})
ys = sorted({r[1] for r in RECT.values()} | {r[3] for r in RECT.values()})
children = []
for k, f in FIGS.items():
    X0, Y0, X1, Y1 = RECT[k]
    c, r = xs.index(X0), ys.index(Y0)
    box = Column(children=[f], width=X1 - X0, height=Y1 - Y0)
    children.append((box, r, c, ys.index(Y1) - r, xs.index(X1) - c))
layout = GridBox(children=children,
                 rows=[f"{b - a}px" for a, b in zip(ys, ys[1:])],
                 cols=[f"{b - a}px" for a, b in zip(xs, xs[1:])], spacing=0)

with open("out.html", "w") as fh:
    fh.write(file_html(layout, INLINE, "Figure"))
